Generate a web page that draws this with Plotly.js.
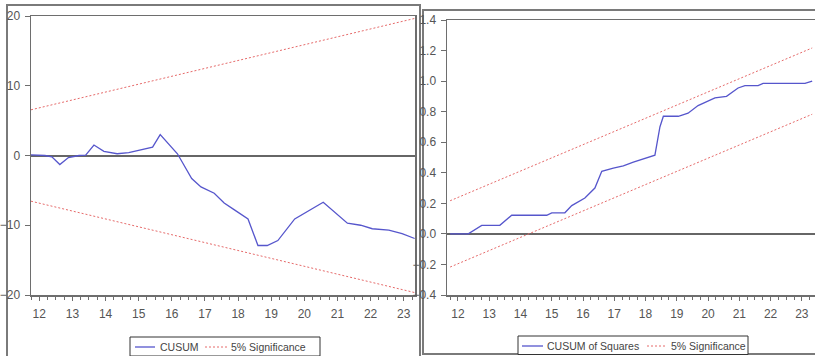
<!DOCTYPE html>
<html>
<head>
<meta charset="utf-8">
<script src="https://cdn.plot.ly/plotly-3.0.1.min.js"></script>
<style>html,body{margin:0;padding:0;background:#fff;}#chart{width:815px;height:356px;}</style>
</head>
<body>
<div id="chart"></div>
<script>
// ---- data ----
var yearTicks = [12, 13, 14, 15, 16, 17, 18, 19, 20, 21, 22, 23];
var yearLabels = ["12", "13", "14", "15", "16", "17", "18", "19", "20", "21", "22", "23"];

var cusumX = [11.75, 12.17, 12.38, 12.62, 12.88, 13.2, 13.4, 13.65, 13.95, 14.35, 14.7, 15.25, 15.42, 15.65, 16.17, 16.6, 16.88, 17.28, 17.58, 17.89, 18.3, 18.6, 18.88, 19.2, 19.71, 20.57, 20.92, 21.3, 21.7, 22.05, 22.55, 22.95, 23.33];
var cusumY = [0.1, 0.0, -0.2, -1.3, -0.3, 0.0, 0.05, 1.5, 0.6, 0.25, 0.4, 1.05, 1.2, 3.0, 0.25, -3.3, -4.5, -5.4, -6.8, -7.8, -9.1, -12.9, -12.9, -12.2, -9.1, -6.7, -8.2, -9.7, -10.0, -10.5, -10.7, -11.2, -11.9];

var cusumBandX = [11.75, 23.33];
var cusumUpper = [6.55, 19.65];
var cusumLower = [-6.55, -19.65];

var sqX = [11.75, 12.33, 12.76, 13.34, 13.72, 14.84, 15.0, 15.42, 15.64, 16.06, 16.38, 16.6, 16.97, 17.29, 17.61, 17.98, 18.3, 18.46, 18.57, 19.05, 19.36, 19.68, 20.22, 20.59, 20.96, 21.18, 21.6, 21.76, 23.1, 23.33];
var sqY = [0, 0, 0.056, 0.056, 0.122, 0.122, 0.138, 0.138, 0.185, 0.235, 0.30, 0.41, 0.43, 0.445, 0.47, 0.495, 0.515, 0.70, 0.77, 0.77, 0.79, 0.84, 0.89, 0.90, 0.955, 0.97, 0.97, 0.985, 0.985, 1.0];

var sqBandX = [11.75, 23.33];
var sqUpper = [0.217, 1.217];
var sqLower = [-0.217, 0.783];

var legendLeft = ["CUSUM", "5% Significance"];
var legendRight = ["CUSUM of Squares", "5% Significance"];

// ---- styles ----
var W = 815, H = 356;
var blue = "#5656cc";
var red = "#e66a6a";
var frame = "#6e6e6e";
var tickFont = {family: "Liberation Sans Narrow, Liberation Sans, Arial, sans-serif", size: 12, color: "#555"};
var legFont = {family: "Liberation Sans, Arial, sans-serif", size: 10.5, color: "#444"};
var redDash = "2px,2px";

function px(x) { return x / W; }
function py(y) { return (H - y) / H; }

var traces = [
  {x: cusumX, y: cusumY, type: "scatter", mode: "lines", name: legendLeft[0],
   line: {color: blue, width: 1.3}, xaxis: "x", yaxis: "y"},
  {x: cusumBandX, y: cusumUpper, type: "scatter", mode: "lines", name: legendLeft[1],
   line: {color: red, width: 1, dash: redDash}, xaxis: "x", yaxis: "y"},
  {x: cusumBandX, y: cusumLower, type: "scatter", mode: "lines", name: legendLeft[1],
   line: {color: red, width: 1, dash: redDash}, xaxis: "x", yaxis: "y"},
  {x: sqX, y: sqY, type: "scatter", mode: "lines", name: legendRight[0],
   line: {color: blue, width: 1.3}, xaxis: "x2", yaxis: "y2"},
  {x: sqBandX, y: sqUpper, type: "scatter", mode: "lines", name: legendRight[1],
   line: {color: red, width: 1, dash: redDash}, xaxis: "x2", yaxis: "y2"},
  {x: sqBandX, y: sqLower, type: "scatter", mode: "lines", name: legendRight[1],
   line: {color: red, width: 1, dash: redDash}, xaxis: "x2", yaxis: "y2"}
];

function xAxis(domain, range, anchor) {
  return {
    domain: domain, range: range, anchor: anchor,
    tickmode: "array", tickvals: yearTicks, ticktext: yearLabels,
    ticks: "outside", ticklen: 4, tickcolor: frame, tickwidth: 1,
    minor: {tickmode: "linear", tick0: 12, dtick: 0.25, ticks: "outside", ticklen: 3, tickcolor: frame, tickwidth: 1},
    ticklabelstandoff: 3,
    showline: true, linecolor: frame, linewidth: 1.5, mirror: true,
    showgrid: false, zeroline: false, tickfont: tickFont, fixedrange: true, automargin: false
  };
}

// hand-drawn legend boxes (shapes + text) so they sit exactly where the reference has them
function legendShapes(box, s1, s2) {
  return [
    {type: "rect", xref: "paper", yref: "paper", x0: px(box[0]), x1: px(box[1]), y0: py(box[3]), y1: py(box[2]),
     line: {color: "#333", width: 1}, fillcolor: "#fff"},
    {type: "line", xref: "paper", yref: "paper", x0: px(s1[0]), x1: px(s1[1]), y0: py(s1[2]), y1: py(s1[2]),
     line: {color: blue, width: 1.3}},
    {type: "line", xref: "paper", yref: "paper", x0: px(s2[0]), x1: px(s2[1]), y0: py(s2[2]), y1: py(s2[2]),
     line: {color: red, width: 1, dash: redDash}}
  ];
}
function legendText(text, x, y) {
  return {xref: "paper", yref: "paper", x: px(x), y: py(y), xanchor: "left", yanchor: "middle",
          text: text, showarrow: false, font: legFont, borderpad: 0};
}

var shapes = [
  {type: "rect", xref: "paper", yref: "paper", x0: px(7), x1: px(420), y0: -0.1, y1: py(5),
   line: {color: "#7a7a7a", width: 2}, fillcolor: "rgba(0,0,0,0)", layer: "below"},
  {type: "rect", xref: "paper", yref: "paper", x0: px(423), x1: 1.05, y0: py(354), y1: py(10),
   line: {color: "#7a7a7a", width: 2}, fillcolor: "rgba(0,0,0,0)", layer: "below"}
].concat(legendShapes([130, 320, 337, 356], [135, 155, 347], [205, 227, 347]))
 .concat(legendShapes([518, 748, 336, 354.5], [522, 543, 346], [647, 667, 346]));

var annotations = [
  legendText(legendLeft[0], 159, 347),
  legendText(legendLeft[1], 230, 347),
  legendText(legendRight[0], 546, 346),
  legendText(legendRight[1], 670, 346)
];

var layout = {
  width: W, height: H,
  margin: {l: 0, r: 0, t: 0, b: 0, autoexpand: false},
  paper_bgcolor: "#fff", plot_bgcolor: "#fff",
  showlegend: false,
  xaxis: xAxis([px(31), px(415)], [11.75, 23.34], "y"),
  yaxis: {
    domain: [py(295), py(16)], range: [-20, 20], tickmode: "linear", tick0: -20, dtick: 10,
    ticks: "outside", ticklen: 5, tickcolor: frame, ticklabelstandoff: 2,
    showline: true, linecolor: frame, linewidth: 1.5, mirror: true,
    showgrid: false, zeroline: true, zerolinecolor: "#666", zerolinewidth: 2,
    tickfont: tickFont, anchor: "x", fixedrange: true, automargin: false
  },
  xaxis2: xAxis([px(447), 1], [11.65, 23.42], "y2"),
  yaxis2: {
    domain: [py(295), py(20)], range: [-0.4, 1.4], tickmode: "linear", tick0: -0.4, dtick: 0.2, tickformat: ".1f",
    ticks: "outside", ticklen: 5, tickcolor: frame, ticklabelstandoff: 2,
    showline: true, linecolor: frame, linewidth: 1.5, mirror: false,
    showgrid: false, zeroline: true, zerolinecolor: "#666", zerolinewidth: 2,
    tickfont: tickFont, anchor: "x2", fixedrange: true, automargin: false
  },
  shapes: shapes,
  annotations: annotations
};

Plotly.newPlot("chart", traces, layout, {displayModeBar: false, staticPlot: true});
</script>
</body>
</html>
